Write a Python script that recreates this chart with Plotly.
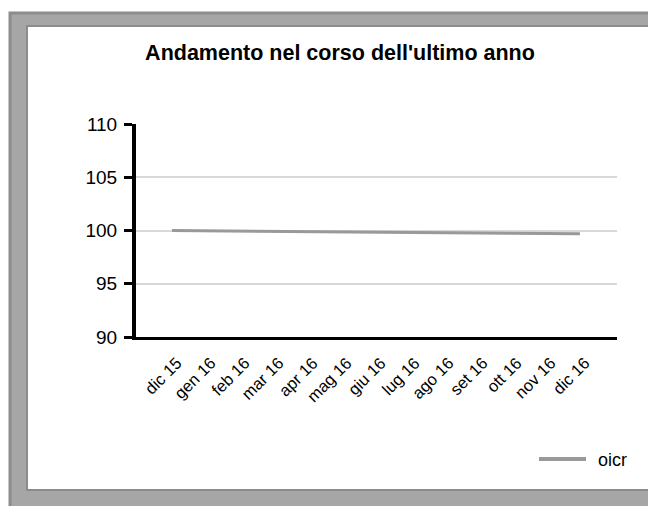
import plotly.graph_objects as go

categories = ["dic 15", "gen 16", "feb 16", "mar 16", "apr 16", "mag 16", "giu 16",
              "lug 16", "ago 16", "set 16", "ott 16", "nov 16", "dic 16"]
oicr = [100.0, 99.98, 99.95, 99.93, 99.90, 99.87, 99.85, 99.82, 99.80, 99.77, 99.74, 99.72, 99.69]
series_name = "oicr"
y_ticks = [90, 95, 100, 105, 110]

OFF = 8  # page body margin
W, H = 656 - OFF, 506 - OFF
L, R, T, B = 136, 617, 124, 337  # plot area in page pixels

def px(x):
    return (x - L) / (R - L)

def py(y):
    return (B - y) / (B - T)

FONT = "Liberation Sans, Arial, sans-serif"
LINE_COLOR = "#999999"

fig = go.Figure()
fig.add_trace(go.Scatter(
    x=categories, y=oicr, mode="lines", name=series_name,
    line=dict(color=LINE_COLOR, width=3), showlegend=False,
))

shapes = [
    dict(type="rect", xref="paper", yref="paper", x0=px(10), x1=px(662), y0=py(13), y1=py(512),
         fillcolor="#a6a6a6", line=dict(color="#8c8c8c", width=3), layer="below"),
    dict(type="line", xref="paper", yref="paper", x0=px(652), x1=px(652), y0=py(17), y1=py(490),
         line=dict(color="#ffffff", width=2), layer="below"),
    dict(type="rect", xref="paper", yref="paper", x0=px(27), x1=px(649), y0=py(26), y1=py(490),
         fillcolor="#ffffff", line=dict(color="#8c8c8c", width=2), layer="below"),
    # legend sample line
    dict(type="line", xref="paper", yref="paper", x0=px(539), x1=px(586), y0=py(459), y1=py(459),
         line=dict(color=LINE_COLOR, width=4)),
]

annotations = [
    dict(text=series_name, xref="paper", yref="paper", x=px(596), y=py(460),
         xanchor="left", yanchor="middle", showarrow=False,
         font=dict(size=18, family=FONT, color="#000000")),
]

fig.update_layout(
    width=W, height=H,
    margin=dict(l=L - OFF, r=656 - R, t=T - OFF, b=506 - B),
    paper_bgcolor="#ffffff", plot_bgcolor="rgba(0,0,0,0)",
    font=dict(family=FONT, color="#000000", size=15),
    title=dict(text="<b>Andamento nel corso dell'ultimo anno</b>", x=(340 - OFF) / W, xanchor="center",
               xref="container", y=1 - (52 - OFF) / H, yanchor="middle",
               font=dict(size=21.5, family=FONT, color="#000000")),
    shapes=shapes,
    annotations=annotations,
    showlegend=False,
    xaxis=dict(type="category", categoryorder="array", categoryarray=categories,
               range=[-1.06, 13.09], tickangle=-45, showgrid=False,
               showline=True, linecolor="#000000", linewidth=3, ticks="",
               ticklabelstandoff=7, ticklabelshift=5,
               tickfont=dict(size=16.5, family=FONT), zeroline=False),
    yaxis=dict(range=[90, 110], tickvals=y_ticks, showgrid=True, gridcolor="#d9d9d9", gridwidth=2,
               showline=True, linecolor="#000000", linewidth=4, ticks="outside",
               ticklen=8, tickwidth=3, tickcolor="#000000", ticklabelstandoff=3,
               tickfont=dict(size=19, family=FONT), zeroline=False),
)

fig.write_html("out.html")
